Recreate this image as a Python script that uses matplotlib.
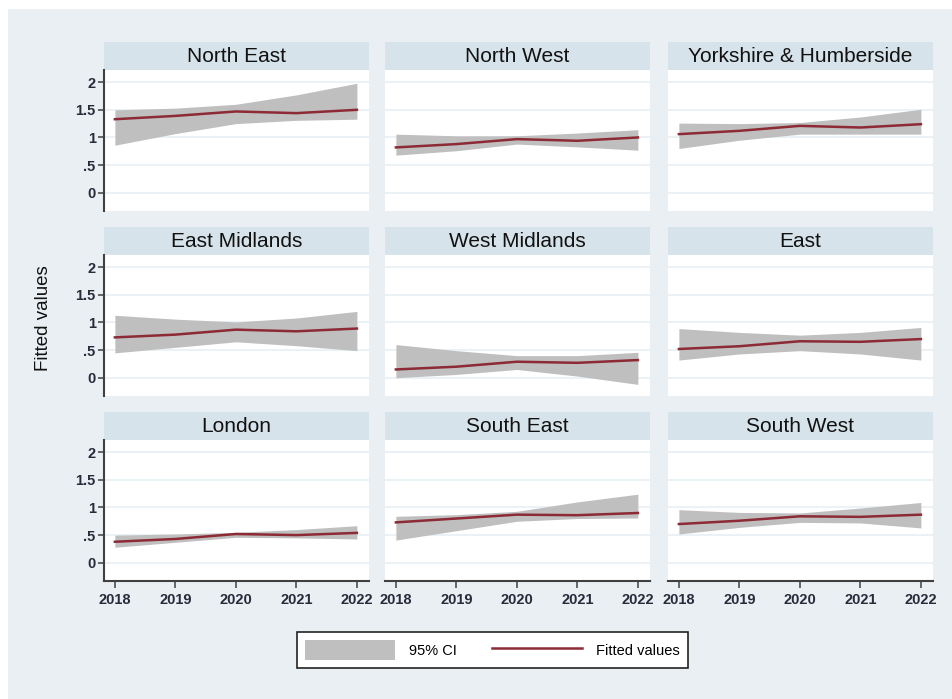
import matplotlib
matplotlib.use("Agg")
import matplotlib.pyplot as plt
from matplotlib.patches import Rectangle, Patch
from matplotlib.lines import Line2D

plt.rcParams['font.family'] = ['Liberation Sans', 'DejaVu Sans']

years = [2018, 2019, 2020, 2021, 2022]
regions = ["North East", "North West", "Yorkshire & Humberside",
           "East Midlands", "West Midlands", "East",
           "London", "South East", "South West"]

fit_ne = [1.33, 1.39, 1.47, 1.44, 1.50]
lo_ne = [0.86, 1.07, 1.25, 1.31, 1.33]
hi_ne = [1.50, 1.53, 1.60, 1.77, 1.98]

fit_nw = [0.82, 0.88, 0.97, 0.94, 1.00]
lo_nw = [0.68, 0.76, 0.88, 0.83, 0.77]
hi_nw = [1.06, 1.03, 1.03, 1.08, 1.14]

fit_yh = [1.06, 1.12, 1.21, 1.18, 1.24]
lo_yh = [0.80, 0.95, 1.06, 1.06, 1.06]
hi_yh = [1.26, 1.25, 1.27, 1.37, 1.51]

fit_em = [0.73, 0.78, 0.87, 0.84, 0.89]
lo_em = [0.45, 0.55, 0.65, 0.58, 0.49]
hi_em = [1.13, 1.06, 1.01, 1.08, 1.20]

fit_wm = [0.15, 0.20, 0.29, 0.27, 0.32]
lo_wm = [0.00, 0.06, 0.15, 0.03, -0.12]
hi_wm = [0.60, 0.49, 0.40, 0.40, 0.46]

fit_e = [0.52, 0.57, 0.66, 0.65, 0.70]
lo_e = [0.32, 0.43, 0.49, 0.43, 0.32]
hi_e = [0.89, 0.82, 0.77, 0.82, 0.91]

fit_ld = [0.38, 0.43, 0.52, 0.50, 0.54]
lo_ld = [0.28, 0.37, 0.46, 0.45, 0.43]
hi_ld = [0.50, 0.52, 0.55, 0.60, 0.67]

fit_se = [0.73, 0.80, 0.87, 0.86, 0.90]
lo_se = [0.41, 0.58, 0.75, 0.80, 0.81]
hi_se = [0.84, 0.87, 0.93, 1.10, 1.24]

fit_sw = [0.70, 0.76, 0.84, 0.83, 0.87]
lo_sw = [0.52, 0.64, 0.73, 0.72, 0.63]
hi_sw = [0.96, 0.91, 0.90, 0.99, 1.09]

fits = [fit_ne, fit_nw, fit_yh, fit_em, fit_wm, fit_e, fit_ld, fit_se, fit_sw]
los = [lo_ne, lo_nw, lo_yh, lo_em, lo_wm, lo_e, lo_ld, lo_se, lo_sw]
his = [hi_ne, hi_nw, hi_yh, hi_em, hi_wm, hi_e, hi_ld, hi_se, hi_sw]

ytick_vals = [0, 0.5, 1, 1.5, 2]
ytick_labels = ["0", ".5", "1", "1.5", "2"]
xtick_labels = ["2018", "2019", "2020", "2021", "2022"]

W, H = 953, 699
BG = '#e9eff2'
STRIP = '#d7e3ea'
GRID = '#e8f0f3'
CI_COL = '#bfbfbf'
LINE_COL = '#8c2a35'
AX_COL = '#404040'

fig = plt.figure(figsize=(W / 100, H / 100), dpi=100)
fig.patch.set_facecolor('white')
fig.add_artist(Rectangle((8 / W, 0), 1 - 8 / W, 1 - 9 / H, transform=fig.transFigure,
                         facecolor=BG, edgecolor='none', zorder=0))

col_left = [104, 385, 668]
col_w = 265
row_top = [70, 255, 440]
row_h = 141
strip_h = 28

def fc(x, y, w, h):
    return [x / W, 1 - (y + h) / H, w / W, h / H]

for i, name in enumerate(regions):
    r, c = divmod(i, 3)
    x0 = col_left[c]
    y0 = row_top[r]
    # strip
    sax = fig.add_axes(fc(x0, y0 - strip_h, col_w, strip_h))
    sax.set_facecolor(STRIP)
    sax.set_xticks([]); sax.set_yticks([])
    for s in sax.spines.values():
        s.set_visible(False)
    sax.text(0.5, 0.47, name, ha='center', va='center', fontsize=15, color='#111111',
             transform=sax.transAxes)
    # plot
    ax = fig.add_axes(fc(x0, y0, col_w, row_h))
    ax.set_facecolor('white')
    ax.set_xlim(2017.82, 2022.2)
    ax.set_ylim(-0.33, 2.22)
    ax.set_yticks(ytick_vals)
    ax.set_yticklabels(ytick_labels, fontweight='bold')
    ax.set_xticks(years)
    ax.set_xticklabels(xtick_labels, fontweight='bold')
    ax.grid(axis='y', color=GRID, lw=1.2, zorder=0)
    ax.set_axisbelow(True)
    ax.fill_between(years, los[i], his[i], color=CI_COL, lw=0, zorder=2)
    ax.plot(years, fits[i], color=LINE_COL, lw=1.8, zorder=3)
    for s in ['top', 'right']:
        ax.spines[s].set_visible(False)
    ax.spines['left'].set_visible(c == 0)
    ax.spines['bottom'].set_visible(r == 2)
    ax.spines['left'].set_color(AX_COL)
    ax.spines['left'].set_linewidth(1.5)
    ax.spines['bottom'].set_color(AX_COL)
    ax.spines['bottom'].set_linewidth(1.5)
    ax.tick_params(axis='y', left=(c == 0), labelleft=(c == 0), length=4, width=1.1,
                   color=AX_COL, labelsize=10.5, labelcolor='#2a2a3a', pad=2)
    ax.tick_params(axis='x', bottom=(r == 2), labelbottom=(r == 2), length=5, width=1.1,
                   color=AX_COL, labelsize=10.5, labelcolor='#2a2a3a', pad=4)

fig.text(44 / W, 1 - 318 / H, "Fitted values", rotation=90, ha='center', va='center',
         fontsize=13.5, color='#111111')

handles = [Patch(facecolor=CI_COL, edgecolor='none'),
           Line2D([], [], color=LINE_COL, lw=1.8)]
leg = fig.legend(handles, ["95% CI", "Fitted values"], ncol=2,
                 loc='center', bbox_to_anchor=(492.5 / W, 1 - 650 / H),
                 fontsize=10.5, handlelength=6.2, handleheight=1.65, handletextpad=0.95,
                 columnspacing=2.4, borderpad=0.55, frameon=True, fancybox=False,
                 facecolor='white', edgecolor='#222222', framealpha=1)
leg.get_frame().set_linewidth(1.2)

fig.savefig("out.png", dpi=100, facecolor=fig.get_facecolor())
